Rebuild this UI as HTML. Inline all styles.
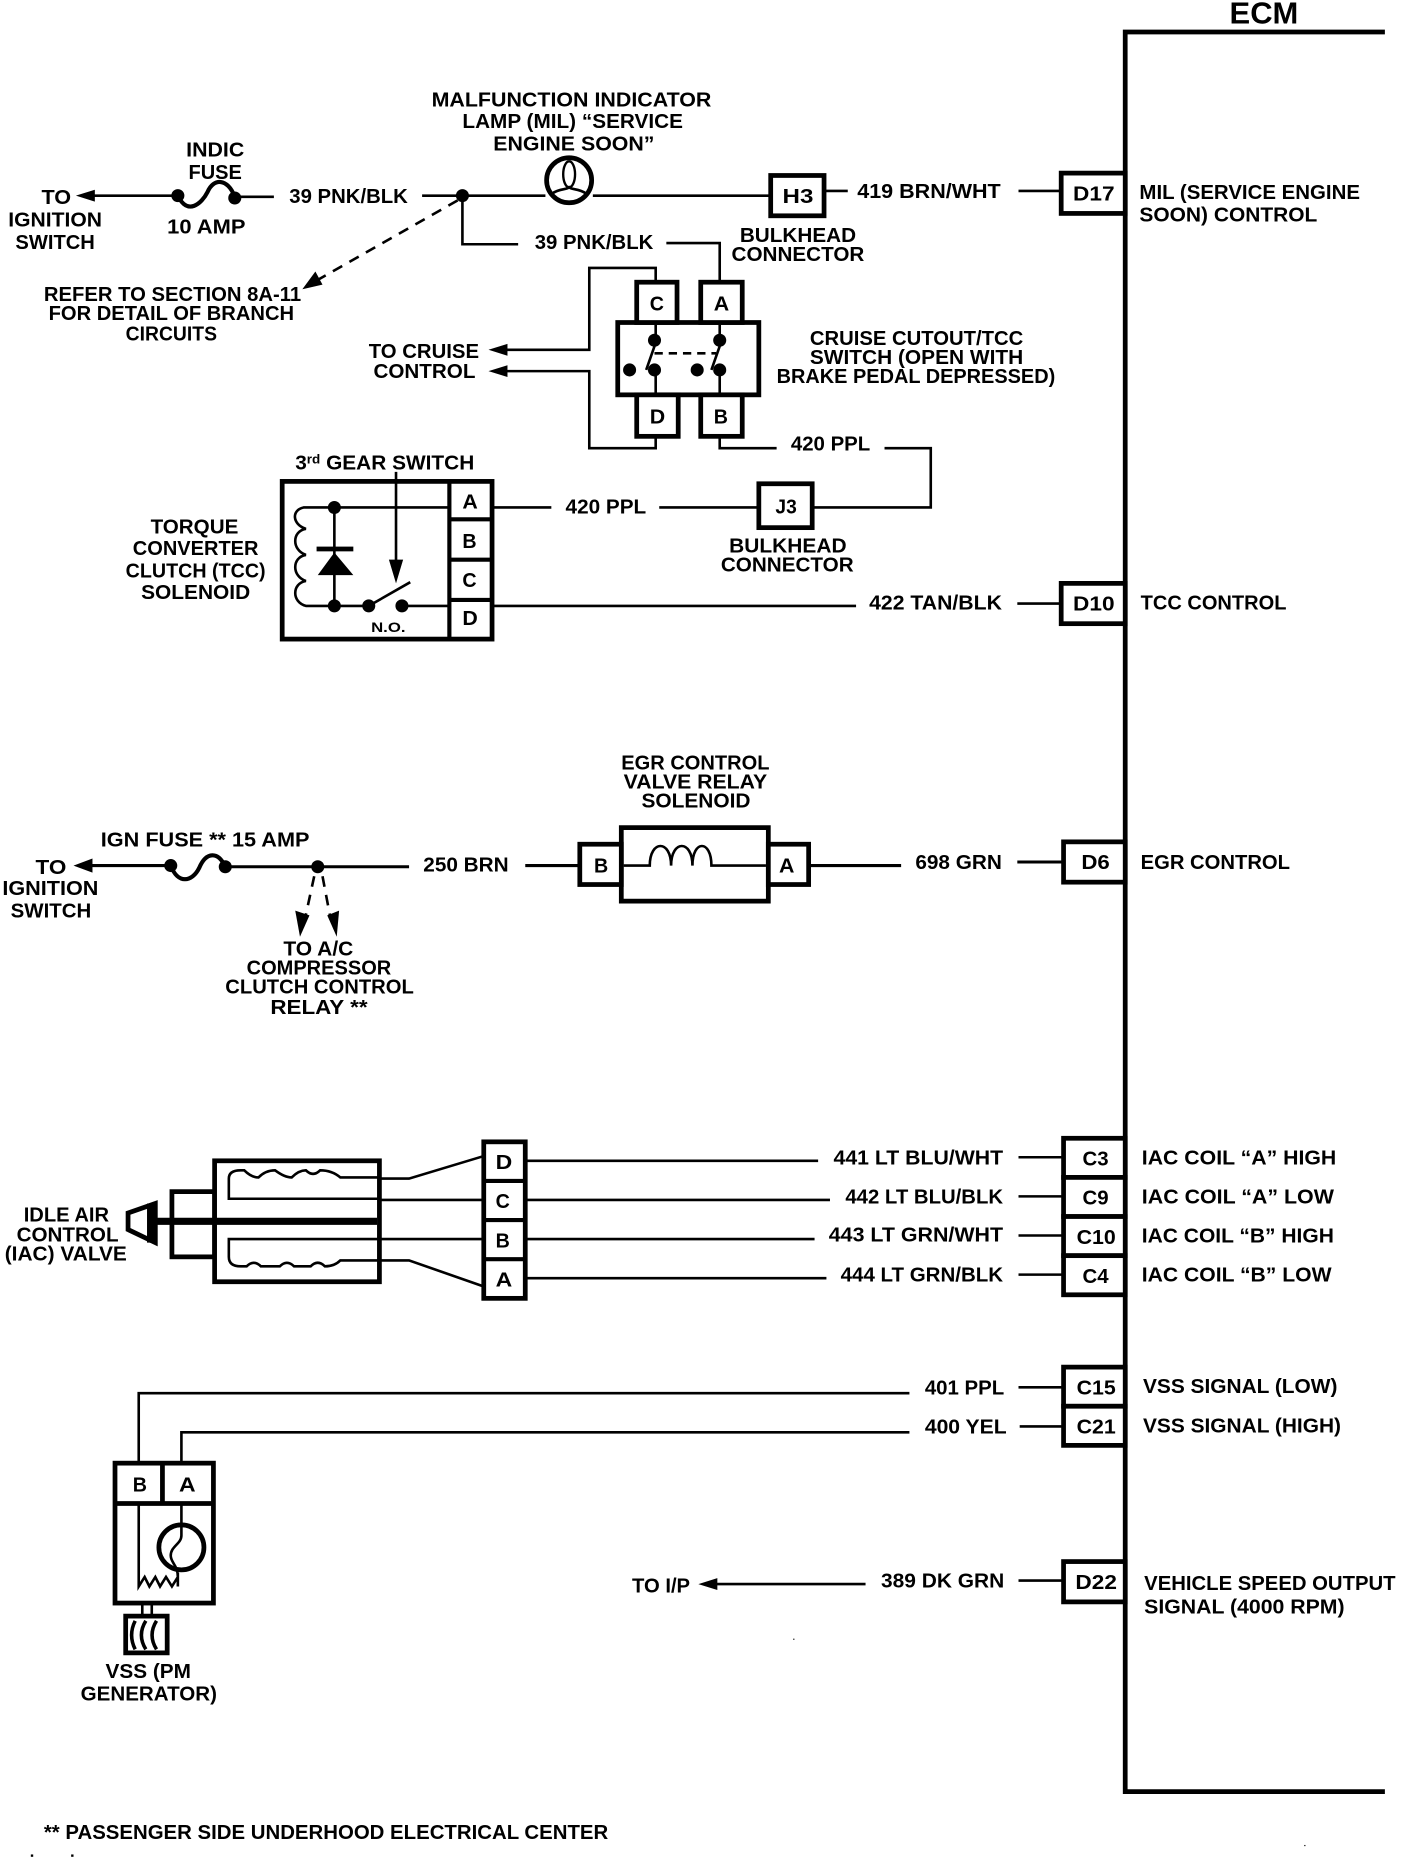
<!DOCTYPE html>
<html><head><meta charset="utf-8">
<style>
html,body{margin:0;padding:0;background:#fff}
svg{display:block}
text{font-family:"Liberation Sans",sans-serif;font-weight:bold;font-size:17px;fill:#000}
.w{fill:none;stroke:#000;stroke-width:2.2}
.b{fill:#fff;stroke:#000;stroke-width:4}
.n{fill:none;stroke:#000;stroke-width:4}
.d{fill:none;stroke:#000;stroke-width:2.2;stroke-dasharray:9 7}
.k{fill:#000;stroke:none}
</style></head><body>
<svg xmlns="http://www.w3.org/2000/svg" width="1408" height="1858" viewBox="0 0 1187.5 1567" preserveAspectRatio="none">
<rect width="1187.5" height="1567" fill="#fff"/>

<!-- ECM -->
<path class="n" d="M1168,27 L949,27 L949,1511 L1168,1511"/>
<text x="1037" y="20" style="font-size:26px" textLength="58" lengthAdjust="spacingAndGlyphs">ECM</text>

<!-- Row 1 -->
<path class="w" d="M70,165 H150 M198,166 H231 M356,165 H460 M500,165 H650 M695,161 H715 M859,161 H895"/>
<polygon class="k" points="64,165 80,160 80,170"/>
<path class="n" style="stroke-width:3.5" d="M150,165 C158,182 170,172 175,162 C180,150 192,150 198,166"/>
<circle class="k" cx="150" cy="165" r="5.5"/><circle class="k" cx="198" cy="167" r="5.5"/><circle class="k" cx="390" cy="165" r="5.5"/>
<circle cx="480" cy="152" r="19" fill="#fff" stroke="#000" stroke-width="4"/>
<ellipse cx="480" cy="147" rx="5" ry="11" fill="none" stroke="#000" stroke-width="2"/>
<path class="w" d="M466,163 C472,159 478,160 480,158 C482,160 488,159 494,163"/>
<rect class="b" x="650" y="148" width="45" height="34"/>
<rect class="b" x="895" y="146" width="54" height="34"/>
<text x="660" y="171" textLength="26" lengthAdjust="spacingAndGlyphs">H3</text>
<text x="905" y="169" textLength="35" lengthAdjust="spacingAndGlyphs">D17</text>
<text x="35" y="172" textLength="25" lengthAdjust="spacingAndGlyphs">TO</text>
<text x="7" y="191" textLength="79" lengthAdjust="spacingAndGlyphs">IGNITION</text>
<text x="13" y="210" textLength="67" lengthAdjust="spacingAndGlyphs">SWITCH</text>
<text x="157" y="132" textLength="49" lengthAdjust="spacingAndGlyphs">INDIC</text>
<text x="159" y="151" textLength="45" lengthAdjust="spacingAndGlyphs">FUSE</text>
<text x="141" y="197" textLength="66" lengthAdjust="spacingAndGlyphs">10 AMP</text>
<text x="244" y="171" textLength="100" lengthAdjust="spacingAndGlyphs">39 PNK/BLK</text>
<text x="364" y="90" textLength="236" lengthAdjust="spacingAndGlyphs">MALFUNCTION INDICATOR</text>
<text x="390" y="108" textLength="186" lengthAdjust="spacingAndGlyphs">LAMP (MIL) “SERVICE</text>
<text x="416" y="127" textLength="136" lengthAdjust="spacingAndGlyphs">ENGINE SOON”</text>
<text x="624" y="204" textLength="98" lengthAdjust="spacingAndGlyphs">BULKHEAD</text>
<text x="617" y="220" textLength="112" lengthAdjust="spacingAndGlyphs">CONNECTOR</text>
<text x="723" y="167" textLength="121" lengthAdjust="spacingAndGlyphs">419 BRN/WHT</text>
<text x="961" y="168" textLength="186" lengthAdjust="spacingAndGlyphs">MIL (SERVICE ENGINE</text>
<text x="961" y="187" textLength="150" lengthAdjust="spacingAndGlyphs">SOON) CONTROL</text>

<!-- Branch + dashed -->
<path class="w" d="M390,165 V206 H437 M562,205 H607 V238"/>
<text x="451" y="210" textLength="100" lengthAdjust="spacingAndGlyphs">39 PNK/BLK</text>
<path class="d" d="M386,169 L268,236"/>
<polygon class="k" points="255,244 266,229 272,240"/>
<text x="37" y="254" textLength="217" lengthAdjust="spacingAndGlyphs">REFER TO SECTION 8A-11</text>
<text x="41" y="270" textLength="207" lengthAdjust="spacingAndGlyphs">FOR DETAIL OF BRANCH</text>
<text x="106" y="287" textLength="77" lengthAdjust="spacingAndGlyphs">CIRCUITS</text>

<!-- Cruise switch -->
<path class="w" d="M553,238 V226 H497 V295 H422 M422,313 H497 V378 H553 V368 M607,368 V378 H655 M746,378 H785 V428 H685 M556,428 H640 M415,428 H465"/>
<polygon class="k" points="412,295 428,290 428,300"/>
<polygon class="k" points="412,313 428,308 428,318"/>
<rect class="b" x="521" y="272" width="119" height="61"/>
<rect class="b" x="537" y="238" width="34" height="34"/>
<rect class="b" x="591" y="238" width="35" height="34"/>
<rect class="b" x="537" y="333" width="35" height="35"/>
<rect class="b" x="591" y="333" width="35" height="35"/>
<text x="548" y="262" textLength="12" lengthAdjust="spacingAndGlyphs">C</text>
<text x="602" y="262" textLength="13" lengthAdjust="spacingAndGlyphs">A</text>
<text x="548" y="357" textLength="13" lengthAdjust="spacingAndGlyphs">D</text>
<text x="602" y="357" textLength="12" lengthAdjust="spacingAndGlyphs">B</text>
<path class="w" d="M553,274 V287 M553,312 V331 M607,274 V287 M607,312 V331 M545,312 L552,292 M600,312 L607,292"/>
<path class="w" style="stroke-dasharray:7 5" d="M552,298 H604"/>
<circle class="k" cx="552" cy="287" r="5.5"/><circle class="k" cx="552" cy="312" r="5.5"/><circle class="k" cx="531" cy="312" r="5.5"/>
<circle class="k" cx="607" cy="287" r="5.5"/><circle class="k" cx="607" cy="312" r="5.5"/><circle class="k" cx="588" cy="312" r="5.5"/>
<text x="311" y="302" textLength="93" lengthAdjust="spacingAndGlyphs">TO CRUISE</text>
<text x="315" y="319" textLength="86" lengthAdjust="spacingAndGlyphs">CONTROL</text>
<text x="683" y="291" textLength="180" lengthAdjust="spacingAndGlyphs">CRUISE CUTOUT/TCC</text>
<text x="683" y="307" textLength="180" lengthAdjust="spacingAndGlyphs">SWITCH (OPEN WITH</text>
<text x="655" y="323" textLength="235" lengthAdjust="spacingAndGlyphs">BRAKE PEDAL DEPRESSED)</text>
<text x="667" y="380" textLength="67" lengthAdjust="spacingAndGlyphs">420 PPL</text>
<text x="477" y="433" textLength="68" lengthAdjust="spacingAndGlyphs">420 PPL</text>
<rect class="b" x="640" y="408" width="45" height="37"/>
<text x="654" y="433" textLength="18" lengthAdjust="spacingAndGlyphs">J3</text>
<text x="615" y="466" textLength="99" lengthAdjust="spacingAndGlyphs">BULKHEAD</text>
<text x="608" y="482" textLength="112" lengthAdjust="spacingAndGlyphs">CONNECTOR</text>

<!-- TCC solenoid -->
<rect class="b" x="238" y="406" width="177" height="133"/>
<path class="n" style="stroke-width:3.5" d="M379,406 V539 M379,438 H415 M379,472 H415 M379,506 H415"/>
<text x="390" y="429" textLength="13" lengthAdjust="spacingAndGlyphs">A</text>
<text x="390" y="462" textLength="12" lengthAdjust="spacingAndGlyphs">B</text>
<text x="390" y="495" textLength="12" lengthAdjust="spacingAndGlyphs">C</text>
<text x="390" y="527" textLength="13" lengthAdjust="spacingAndGlyphs">D</text>
<path class="w" d="M379,428 H256 C246,430 246,442 258,446 C246,448 246,464 258,468 C246,470 246,486 258,490 C246,492 246,508 258,511 H311 L346,491 M339,511 H379 M282,428 V511 M334,398 V485"/>
<polygon class="k" points="334,492 328,472 340,472"/>
<rect class="k" x="267" y="461" width="31" height="4"/>
<polygon class="k" points="282,466 268,485 298,485"/>
<circle class="k" cx="282" cy="428" r="5.5"/><circle class="k" cx="282" cy="511" r="5.5"/><circle class="k" cx="311" cy="511" r="5.5"/><circle class="k" cx="339" cy="511" r="5.5"/>
<text x="313" y="533" style="font-size:12px" textLength="29" lengthAdjust="spacingAndGlyphs">N.O.</text>
<text x="249" y="396" textLength="151" lengthAdjust="spacingAndGlyphs">3<tspan dy="-5" style="font-size:11px">rd</tspan><tspan dy="5"> GEAR SWITCH</tspan></text>
<text x="127" y="450" textLength="74" lengthAdjust="spacingAndGlyphs">TORQUE</text>
<text x="112" y="468" textLength="106" lengthAdjust="spacingAndGlyphs">CONVERTER</text>
<text x="106" y="487" textLength="118" lengthAdjust="spacingAndGlyphs">CLUTCH (TCC)</text>
<text x="119" y="505" textLength="92" lengthAdjust="spacingAndGlyphs">SOLENOID</text>
<path class="w" d="M415,511 H722 M858,509 H895"/>
<text x="733" y="514" textLength="112" lengthAdjust="spacingAndGlyphs">422 TAN/BLK</text>
<rect class="b" x="895" y="492" width="54" height="34"/>
<text x="905" y="515" textLength="35" lengthAdjust="spacingAndGlyphs">D10</text>
<text x="962" y="514" textLength="123" lengthAdjust="spacingAndGlyphs">TCC CONTROL</text>

<!-- EGR row -->
<path class="w" style="stroke-width:2.6" d="M68,730 H144 M190,731 H345 M443,730 H489 M682,730 H760 M858,727 H897"/>
<polygon class="k" points="62,730 78,724 78,736"/>
<path class="n" style="stroke-width:3.5" d="M144,730 C150,746 162,744 168,732 C174,718 184,718 190,731"/>
<circle class="k" cx="144" cy="730" r="5.5"/><circle class="k" cx="190" cy="731" r="5.5"/><circle class="k" cx="268" cy="731" r="5.5"/>
<path class="d" d="M265,739 L257,776 M272,739 L279,776"/>
<polygon class="k" points="253,790 249,768 261,772"/>
<polygon class="k" points="284,790 276,772 286,768"/>
<text x="30" y="737" textLength="26" lengthAdjust="spacingAndGlyphs">TO</text>
<text x="2" y="755" textLength="81" lengthAdjust="spacingAndGlyphs">IGNITION</text>
<text x="9" y="774" textLength="68" lengthAdjust="spacingAndGlyphs">SWITCH</text>
<text x="85" y="714" textLength="176" lengthAdjust="spacingAndGlyphs">IGN FUSE ** 15 AMP</text>
<text x="357" y="735" textLength="72" lengthAdjust="spacingAndGlyphs">250 BRN</text>
<text x="239" y="806" textLength="59" lengthAdjust="spacingAndGlyphs">TO A/C</text>
<text x="208" y="822" textLength="122" lengthAdjust="spacingAndGlyphs">COMPRESSOR</text>
<text x="190" y="838" textLength="159" lengthAdjust="spacingAndGlyphs">CLUTCH CONTROL</text>
<text x="228" y="855" textLength="82" lengthAdjust="spacingAndGlyphs">RELAY **</text>
<rect class="b" x="524" y="698" width="124" height="62"/>
<rect class="b" x="489" y="712" width="35" height="34"/>
<rect class="b" x="648" y="712" width="34" height="34"/>
<text x="501" y="736" textLength="12" lengthAdjust="spacingAndGlyphs">B</text>
<text x="657" y="736" textLength="13" lengthAdjust="spacingAndGlyphs">A</text>
<path class="w" d="M526,730 H548 C548,708 566,708 566,730 C566,708 584,708 584,730 C584,708 600,708 600,730 H646"/>
<text x="524" y="649" textLength="125" lengthAdjust="spacingAndGlyphs">EGR CONTROL</text>
<text x="526" y="665" textLength="121" lengthAdjust="spacingAndGlyphs">VALVE RELAY</text>
<text x="541" y="681" textLength="92" lengthAdjust="spacingAndGlyphs">SOLENOID</text>
<text x="772" y="733" textLength="73" lengthAdjust="spacingAndGlyphs">698 GRN</text>
<rect class="b" x="897" y="710" width="52" height="34"/>
<text x="912" y="733" textLength="24" lengthAdjust="spacingAndGlyphs">D6</text>
<text x="962" y="733" textLength="126" lengthAdjust="spacingAndGlyphs">EGR CONTROL</text>

<!-- IAC -->
<polygon points="108,1023 131,1015 131,1048 108,1037" fill="#fff" stroke="#000" stroke-width="4"/>
<rect class="k" x="124" y="1015" width="8" height="33"/>
<rect class="b" x="145" y="1005" width="36" height="55"/>
<rect class="b" x="181" y="979" width="139" height="102"/>
<path class="n" style="stroke-width:6" d="M130,1030 H318"/>
<path class="w" d="M320,994 H345 L408,975 M320,1012 H408 M320,1045 H408 M320,1063 H345 L408,1085"/>
<path class="w" d="M320,1011 H193 V994 Q193,987 203,987 H206 Q212,993 218,993 Q224,987 232,987 Q240,993 246,993 Q252,987 258,987 Q264,993 270,987 Q280,987 287,993 H320"/>
<path class="w" d="M320,1045 H193 V1060 Q193,1068 203,1068 H208 Q214,1062 220,1068 H236 Q242,1062 248,1068 H262 Q268,1062 274,1068 Q282,1068 287,1063 H320"/>
<rect class="b" x="408" y="963" width="35" height="132"/>
<path class="n" style="stroke-width:3.5" d="M408,996 H443 M408,1029 H443 M408,1062 H443"/>
<text x="418" y="986" textLength="14" lengthAdjust="spacingAndGlyphs">D</text>
<text x="418" y="1019" textLength="12" lengthAdjust="spacingAndGlyphs">C</text>
<text x="418" y="1052" textLength="12" lengthAdjust="spacingAndGlyphs">B</text>
<text x="418" y="1085" textLength="14" lengthAdjust="spacingAndGlyphs">A</text>
<text x="20" y="1030" textLength="72" lengthAdjust="spacingAndGlyphs">IDLE AIR</text>
<text x="14" y="1047" textLength="86" lengthAdjust="spacingAndGlyphs">CONTROL</text>
<text x="4" y="1063" textLength="103" lengthAdjust="spacingAndGlyphs">(IAC) VALVE</text>
<path class="w" d="M443,979 H690 M443,1012 H700 M443,1045 H687 M443,1078 H697 M859,976 H897 M859,1009 H897 M859,1042 H897 M859,1075 H897"/>
<text x="703" y="982" textLength="143" lengthAdjust="spacingAndGlyphs">441 LT BLU/WHT</text>
<text x="713" y="1015" textLength="133" lengthAdjust="spacingAndGlyphs">442 LT BLU/BLK</text>
<text x="699" y="1047" textLength="147" lengthAdjust="spacingAndGlyphs">443 LT GRN/WHT</text>
<text x="709" y="1081" textLength="137" lengthAdjust="spacingAndGlyphs">444 LT GRN/BLK</text>
<rect class="b" x="897" y="960" width="52" height="33"/>
<rect class="b" x="897" y="993" width="52" height="33"/>
<rect class="b" x="897" y="1026" width="52" height="33"/>
<rect class="b" x="897" y="1059" width="52" height="33"/>
<text x="913" y="983" textLength="22" lengthAdjust="spacingAndGlyphs">C3</text>
<text x="913" y="1016" textLength="22" lengthAdjust="spacingAndGlyphs">C9</text>
<text x="908" y="1049" textLength="33" lengthAdjust="spacingAndGlyphs">C10</text>
<text x="913" y="1082" textLength="22" lengthAdjust="spacingAndGlyphs">C4</text>
<text x="963" y="982" textLength="164" lengthAdjust="spacingAndGlyphs">IAC COIL “A” HIGH</text>
<text x="963" y="1015" textLength="162" lengthAdjust="spacingAndGlyphs">IAC COIL “A” LOW</text>
<text x="963" y="1048" textLength="162" lengthAdjust="spacingAndGlyphs">IAC COIL “B” HIGH</text>
<text x="963" y="1081" textLength="160" lengthAdjust="spacingAndGlyphs">IAC COIL “B” LOW</text>

<!-- VSS -->
<path class="w" d="M117,1234 V1175 H767 M153,1234 V1208 H767 M859,1170 H897 M860,1203 H897"/>
<text x="780" y="1176" textLength="67" lengthAdjust="spacingAndGlyphs">401 PPL</text>
<text x="780" y="1209" textLength="69" lengthAdjust="spacingAndGlyphs">400 YEL</text>
<rect class="b" x="897" y="1153" width="52" height="33"/>
<rect class="b" x="897" y="1186" width="52" height="33"/>
<text x="908" y="1176" textLength="33" lengthAdjust="spacingAndGlyphs">C15</text>
<text x="908" y="1209" textLength="33" lengthAdjust="spacingAndGlyphs">C21</text>
<text x="964" y="1175" textLength="164" lengthAdjust="spacingAndGlyphs">VSS SIGNAL (LOW)</text>
<text x="964" y="1208" textLength="167" lengthAdjust="spacingAndGlyphs">VSS SIGNAL (HIGH)</text>
<rect class="b" x="97" y="1234" width="83" height="118"/>
<path class="n" d="M97,1268 H180 M137,1234 V1268"/>
<text x="112" y="1258" textLength="12" lengthAdjust="spacingAndGlyphs">B</text>
<text x="151" y="1258" textLength="14" lengthAdjust="spacingAndGlyphs">A</text>
<circle cx="153" cy="1305" r="19" fill="#fff" stroke="#000" stroke-width="4"/>
<path class="w" d="M117,1268 V1338 L122,1330 L126,1338 L131,1330 L135,1338 L140,1330 L145,1338 L150,1330 V1338 M153,1268 V1295 C153,1302 144,1304 144,1312 C144,1318 150,1320 150,1330"/>
<path class="w" d="M120,1352 V1362 M128,1352 V1362"/>
<rect class="b" x="106" y="1363" width="35" height="31"/>
<path class="w" d="M114,1367 C110,1375 110,1383 114,1391 M123,1367 C118,1375 118,1383 123,1391 M132,1367 C127,1375 127,1383 132,1391" style="stroke-width:3"/>
<text x="89" y="1415" textLength="72" lengthAdjust="spacingAndGlyphs">VSS (PM</text>
<text x="68" y="1434" textLength="115" lengthAdjust="spacingAndGlyphs">GENERATOR)</text>

<!-- D22 -->
<path class="w" d="M596,1336 H730 M859,1333 H897"/>
<polygon class="k" points="589,1336 605,1331 605,1341"/>
<text x="533" y="1343" textLength="49" lengthAdjust="spacingAndGlyphs">TO I/P</text>
<text x="743" y="1339" textLength="104" lengthAdjust="spacingAndGlyphs">389 DK GRN</text>
<rect class="b" x="897" y="1317" width="52" height="34"/>
<text x="907" y="1340" textLength="35" lengthAdjust="spacingAndGlyphs">D22</text>
<text x="965" y="1341" textLength="212" lengthAdjust="spacingAndGlyphs">VEHICLE SPEED OUTPUT</text>
<text x="965" y="1361" textLength="169" lengthAdjust="spacingAndGlyphs">SIGNAL (4000 RPM)</text>

<!-- Footer -->
<text x="37" y="1551" textLength="476" lengthAdjust="spacingAndGlyphs">** PASSENGER SIDE UNDERHOOD ELECTRICAL CENTER</text>
<rect class="k" x="26" y="1564" width="2" height="2"/><rect class="k" x="60" y="1564" width="2" height="2"/><rect class="k" x="669" y="1382" width="1" height="1"/><rect class="k" x="1100" y="1556" width="1" height="1"/>
</svg>
</body></html>
